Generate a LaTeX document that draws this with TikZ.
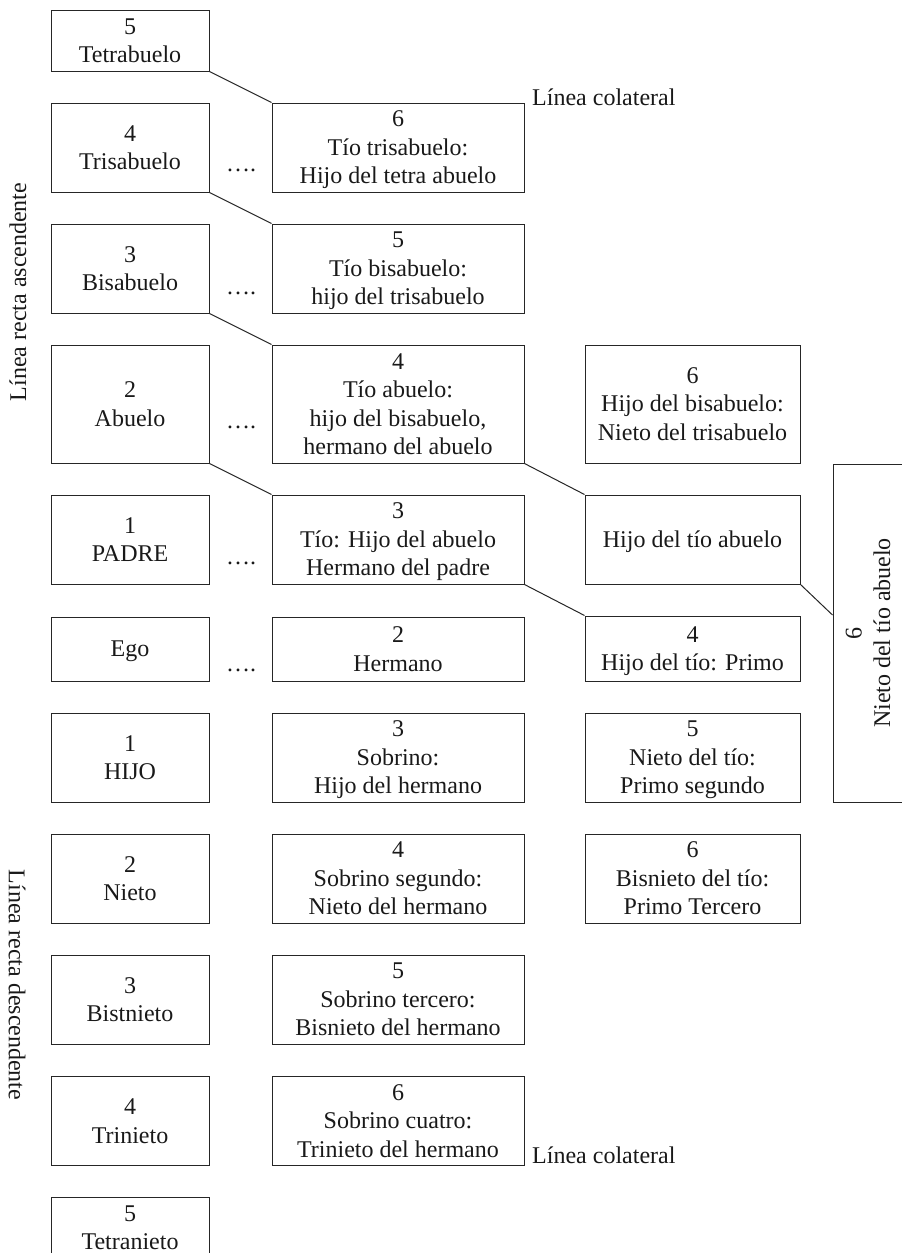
\documentclass[tikz,border=0pt]{standalone}
\usepackage{fontspec}
\setmainfont{Liberation Serif}
\usetikzlibrary{calc}

\begin{document}
\begin{tikzpicture}[x=1pt,y=-1pt,
    font=\fontsize{24pt}{28.5pt}\selectfont,
    inner sep=0pt,
    text=black!90,
    linea/.style={draw=black!85, line width=1pt},
    caja/.style={linea, rectangle, align=center, text depth=0pt, minimum height=89pt},
    col1/.style={caja, minimum width=158pt},
    col2/.style={caja, minimum width=252pt},
    col3/.style={caja, minimum width=215pt}]
      \useasboundingbox (0,0) rectangle (902,1253);
      \clip (0,0) rectangle (902,1253);
      \node[col1, minimum height=61pt] (a5) at (130,40.5) {5\\Tetrabuelo};
      \node[col1] (a4) at (130,147.5) {4\\Trisabuelo};
      \node[col1] (a3) at (130,268.5) {3\\Bisabuelo};
      \node[col1, minimum height=118pt] (a2) at (130,404) {2\\Abuelo};
      \node[col1] (a1) at (130,539.5) {1\\PADRE};
      \node[col1, minimum height=64pt] (ego) at (130,649) {Ego};
      \node[col1] (d1) at (130,757.5) {1\\HIJO};
      \node[col1] (d2) at (130,878.5) {2\\Nieto};
      \node[col1] (d3) at (130,999.5) {3\\Bistnieto};
      \node[col1] (d4) at (130,1121) {4\\Trinieto};
      \node[col1, minimum height=61pt] (d5) at (130,1227.5) {5\\Tetranieto};
      \node[col2] (c6) at (398,147.5) {6\\Tío trisabuelo:\\Hijo del tetra abuelo};
      \node[col2] (c5) at (398,268.5) {5\\Tío bisabuelo:\\hijo del trisabuelo};
      \node[col2, minimum height=118pt] (c4) at (398,404)
        {4\\Tío abuelo:\\hijo del bisabuelo,\\hermano del abuelo};
      \node[col2] (c3) at (398,539.5) {3\\Tío: Hijo del abuelo\\Hermano del padre};
      \node[col2, minimum height=64pt] (c2) at (398,649) {2\\Hermano};
      \node[col2] (s3) at (398,757.5) {3\\Sobrino:\\Hijo del hermano};
      \node[col2] (s4) at (398,878.5) {4\\Sobrino segundo:\\Nieto del hermano};
      \node[col2] (s5) at (398,999.5) {5\\Sobrino tercero:\\Bisnieto del hermano};
      \node[col2] (s6) at (398,1121) {6\\Sobrino cuatro:\\Trinieto del hermano};
      \node[col3, minimum height=118pt] (b6) at (692.5,404)
        {6\\Hijo del bisabuelo:\\Nieto del trisabuelo};
      \node[col3] (h1) at (692.5,539.5) {Hijo del tío abuelo};
      \node[col3, minimum height=65pt] (p4) at (692.5,648.5) {4\\Hijo del tío: Primo};
      \node[col3] (p5) at (692.5,757.5) {5\\Nieto del tío:\\Primo segundo};
      \node[col3] (p6) at (692.5,878.5) {6\\Bisnieto del tío:\\Primo Tercero};
      \node[caja, rotate=90,
        minimum width=338pt,
        minimum height=70pt] (n6) at (868,633) {6\\Nieto del tío abuelo};
      \foreach \u/\v in {a5/c6,a4/c5,a3/c4,a2/c3,c4/h1,c3/p4}
        \draw[linea] (\u.south east) -- (\v.north west);
      \draw[linea] (h1.south east) -- ($(n6.north)+(0,-18)$);
      \foreach \y in {170,293,427,563,670}
        \node (pt\y) at (241,\y) {\dots.};
      \node[anchor=base west] (lc1) at (532,105) {Línea colateral};
      \node[anchor=base west] (lc2) at (532,1163) {Línea colateral};
      \node[rotate=90] (asc) at (18,292) {Línea recta ascendente};
      \node[rotate=-90] (desc) at (17,985) {Línea recta descendente};
    \end{tikzpicture}
\end{document}
